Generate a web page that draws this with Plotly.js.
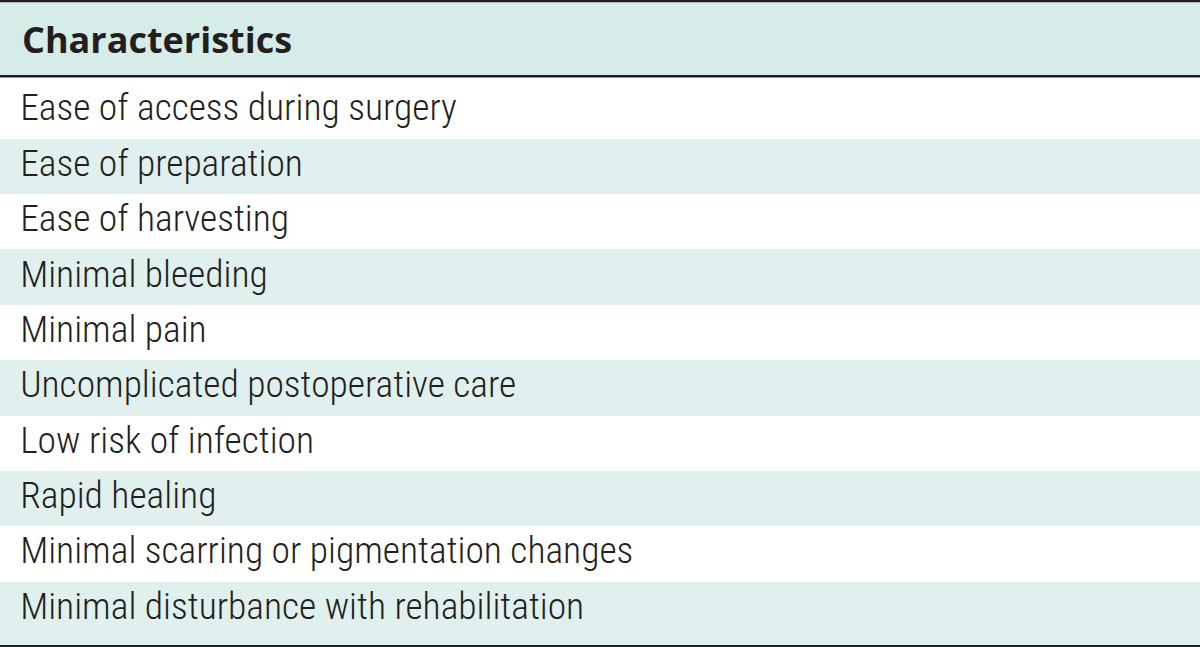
<!DOCTYPE html>
<html>
<head>
<meta charset="utf-8">
<script src="https://cdn.plot.ly/plotly-3.0.1.min.js"></script>
<style>html,body{margin:0;padding:0;background:#fff;}#chart{width:1200px;height:647px;}</style>
</head>
<body>
<div id="chart"></div>
<script>
// ---- data ----
var headerLabels = ["Characteristics"];
var characteristics = [
  "Ease of access during surgery",
  "Ease of preparation",
  "Ease of harvesting",
  "Minimal bleeding",
  "Minimal pain",
  "Uncomplicated postoperative care",
  "Low risk of infection",
  "Rapid healing",
  "Minimal scarring or pigmentation changes",
  "Minimal disturbance with rehabilitation"
];

// ---- styling ----
var W = 1200, H = 647;
var headerFill = "#d5ece8";
var bandFill = "#e0f0ee";
var ink = "#231f20";
var textX = 0.0168;
var rowFont = {family: "Roboto Condensed, Noto Sans, sans-serif", size: 37.5, color: ink, stretch: "condensed", weight: 300};
var headFont = {family: "Open Sans, sans-serif", size: 36, color: ink, weight: 700};

var rowColors = characteristics.map(function(_, i){ return i % 2 === 0 ? "#ffffff" : bandFill; });

var traces = [
  {type: "bar", orientation: "h", y: characteristics, x: characteristics.map(function(){return 1;}),
   base: 0, width: 1, marker: {color: rowColors, line: {width: 0}}, hoverinfo: "skip", xaxis: "x", yaxis: "y"},
  {type: "scatter", mode: "text", y: characteristics, x: characteristics.map(function(){return textX;}),
   text: characteristics, textposition: "middle right", textfont: rowFont, hoverinfo: "skip", xaxis: "x", yaxis: "y"},
  {type: "bar", orientation: "h", y: headerLabels, x: headerLabels.map(function(){return 1;}),
   base: 0, width: 1, marker: {color: headerFill, line: {width: 0}}, hoverinfo: "skip", xaxis: "x", yaxis: "y2"}
];

function py(px){ return 1 - px / H; }

var layout = {
  width: W, height: H,
  margin: {l: 0, r: 0, t: 0, b: 0, pad: 0},
  paper_bgcolor: "#ffffff", plot_bgcolor: "rgba(0,0,0,0)",
  showlegend: false, bargap: 0,
  xaxis: {range: [0, 1], visible: false, fixedrange: true, domain: [0, 1]},
  yaxis: {type: "category", autorange: "reversed", visible: false, fixedrange: true, domain: [py(637.2), py(83.3)]},
  yaxis2: {type: "category", visible: false, fixedrange: true, domain: [py(76), py(1)], anchor: "x"},
  annotations: headerLabels.map(function(h){
    return {xref: "paper", x: textX, yref: "y2", y: h, text: h, showarrow: false,
            xanchor: "left", yanchor: "middle", yshift: -1.5, font: headFont};
  }),
  shapes: [
    {type: "rect", xref: "paper", yref: "paper", x0: 0, x1: 1, y0: py(645), y1: py(636.8), fillcolor: bandFill, line: {width: 0}, layer: "below"},
    {type: "line", xref: "paper", yref: "paper", x0: 0, x1: 1, y0: py(1.1), y1: py(1.1), line: {color: ink, width: 2.3}},
    {type: "line", xref: "paper", yref: "paper", x0: 0, x1: 1, y0: py(76.3), y1: py(76.3), line: {color: ink, width: 2.5}},
    {type: "line", xref: "paper", yref: "paper", x0: 0, x1: 1, y0: py(646), y1: py(646), line: {color: ink, width: 2}}
  ]
};

Plotly.newPlot("chart", traces, layout, {staticPlot: true, displayModeBar: false});
</script>
</body>
</html>
